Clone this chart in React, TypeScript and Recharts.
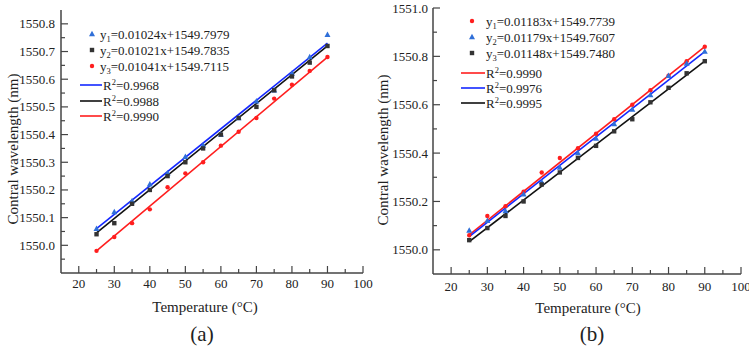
import React from 'react';
import { ComposedChart, Scatter, Line, XAxis, YAxis, Legend } from 'recharts';

// measured temperatures
const temps = [25, 30, 35, 40, 45, 50, 55, 60, 65, 70, 75, 80, 85, 90];
const fitX = [25, 90];

// (a)
const aY1 = [1550.06, 1550.12, 1550.16, 1550.22, 1550.26, 1550.32, 1550.36, 1550.4, 1550.46, 1550.52, 1550.56, 1550.62, 1550.68, 1550.76];
const aY2 = [1550.04, 1550.08, 1550.15, 1550.2, 1550.25, 1550.3, 1550.35, 1550.4, 1550.46, 1550.5, 1550.56, 1550.61, 1550.66, 1550.72];
const aY3 = [1549.98, 1550.03, 1550.08, 1550.13, 1550.21, 1550.26, 1550.3, 1550.36, 1550.41, 1550.46, 1550.53, 1550.58, 1550.63, 1550.68];
const aFit1 = [1550.06, 1550.73];
const aFit2 = [1550.045, 1550.72];
const aFit3 = [1549.98, 1550.68];

// (b)
const bY1 = [1550.06, 1550.14, 1550.18, 1550.24, 1550.32, 1550.38, 1550.42, 1550.48, 1550.54, 1550.6, 1550.66, 1550.72, 1550.78, 1550.84];
const bY2 = [1550.08, 1550.12, 1550.16, 1550.23, 1550.28, 1550.34, 1550.4, 1550.46, 1550.52, 1550.58, 1550.64, 1550.72, 1550.77, 1550.82];
const bY3 = [1550.04, 1550.09, 1550.14, 1550.2, 1550.27, 1550.32, 1550.38, 1550.43, 1550.49, 1550.54, 1550.61, 1550.67, 1550.73, 1550.78];
const bFit1 = [1550.062, 1550.84];
const bFit2 = [1550.055, 1550.82];
const bFit3 = [1550.034, 1550.78];

const xTicks = [20, 25, 30, 35, 40, 45, 50, 55, 60, 65, 70, 75, 80, 85, 90, 95, 100];
const xMajor = [20, 30, 40, 50, 60, 70, 80, 90, 100];
const aYTicks = [1549.95, 1550.0, 1550.05, 1550.1, 1550.15, 1550.2, 1550.25, 1550.3, 1550.35, 1550.4, 1550.45, 1550.5, 1550.55, 1550.6, 1550.65, 1550.7, 1550.75, 1550.8];
const aYMajor = [1549.9, 1550.0, 1550.1, 1550.2, 1550.3, 1550.4, 1550.5, 1550.6, 1550.7, 1550.8];
const bYTicks = [1550.0, 1550.1, 1550.2, 1550.3, 1550.4, 1550.5, 1550.6, 1550.7, 1550.8, 1550.9, 1551.0];
const bYMajor = [1550.0, 1550.2, 1550.4, 1550.6, 1550.8, 1551.0];

const aLegend = ['0.01024x+1549.7979', '0.01021x+1549.7835', '0.01041x+1549.7115'];
const aR2 = ['0.9968', '0.9988', '0.9990'];
const bLegend = ['0.01183x+1549.7739', '0.01179x+1549.7607', '0.01148x+1549.7480'];
const bR2 = ['0.9990', '0.9976', '0.9995'];

const FONT = '"Liberation Serif", "Times New Roman", serif';
const AXIS = '#444';
const BLUE = '#1428ff';
const TRI = '#2f6fd8';
const RED = '#ff1e1e';
const BLACK = '#111';

const pts = (ys: number[]) => temps.map((x, i) => ({ x, y: ys[i] }));
const seg = (ys: number[]) => fitX.map((x, i) => ({ x, y: ys[i] }));
const near = (list: number[], v: number) => list.some((m) => Math.abs(m - v) < 1e-6);

function Marker({ kind, cx, cy, color }: any) {
  if (kind === 'tri')
    return <polygon points={`${cx},${cy - 3.3} ${cx - 3},${cy + 2.2} ${cx + 3},${cy + 2.2}`} fill={color} />;
  if (kind === 'sq') return <rect x={cx - 2.2} y={cy - 2.2} width={4.4} height={4.4} fill={color} />;
  return <circle cx={cx} cy={cy} r={2.2} fill={color} />;
}

const shape = (kind: string, color: string) => (p: any) => <Marker kind={kind} cx={p.cx} cy={p.cy} color={color} />;

function XTick({ x, y, payload, dy }: any) {
  const major = near(xMajor, payload.value);
  return (
    <g>
      <line x1={x} x2={x} y1={y} y2={y - (major ? 7 : 4)} stroke={AXIS} strokeWidth={1.2} />
      {major && (
        <text x={x} y={y + dy} textAnchor="middle" fontSize={13} fontFamily={FONT} fill="#222">
          {payload.value}
        </text>
      )}
    </g>
  );
}

function YTick({ x, y, payload, majors, gap }: any) {
  const major = near(majors, payload.value);
  return (
    <g>
      <line x1={x} x2={x + (major ? 7 : 4)} y1={y} y2={y} stroke={AXIS} strokeWidth={1.2} />
      {major && (
        <text x={x - gap} y={y + 4.5} textAnchor="end" fontSize={13} fontFamily={FONT} fill="#222">
          {payload.value.toFixed(1)}
        </text>
      )}
    </g>
  );
}

type Entry = { kind: string; color: string };

function LegendBox({ left, top, markers, lines, eqs, r2s, mk, tx, lx, ltx, rows, lrows }: any) {
  return (
    <div style={{ position: 'absolute', left, top }}>
      <svg width={260} height={110} style={{ overflow: 'visible' }}>
        {markers.map((m: Entry, i: number) => (
          <g key={'m' + i}>
            <Marker kind={m.kind} cx={mk} cy={rows[i]} color={m.color} />
            <text x={tx} y={rows[i] + 4.5} fontSize={13} fontFamily={FONT} fill="#222">
              y<tspan fontSize={8.5} dy={3}>{i + 1}</tspan>
              <tspan dy={-3}>={eqs[i]}</tspan>
            </text>
          </g>
        ))}
        {lines.map((c: string, i: number) => (
          <g key={'l' + i}>
            <line x1={lx[0]} x2={lx[1]} y1={lrows[i]} y2={lrows[i]} stroke={c} strokeWidth={1.6} />
            <text x={ltx} y={lrows[i] + 4.5} fontSize={13} fontFamily={FONT} fill="#222">
              R<tspan fontSize={8.5} dy={-5}>2</tspan>
              <tspan dy={5}>={r2s[i]}</tspan>
            </text>
          </g>
        ))}
      </svg>
    </div>
  );
}

function Panel(props: any) {
  const { width, margin, yWidth, yDomain, yTicks, yMajor, series, fits, legend, xdy, ygap } = props;
  return (
    <ComposedChart width={width} height={351} margin={margin}>
      <XAxis
        dataKey="x"
        type="number"
        domain={[15, 100]}
        ticks={xTicks}
        interval={0}
        tickSize={0}
        tickMargin={0}
        tickLine={false}
        axisLine={{ stroke: AXIS, strokeWidth: 1.5 }}
        tick={<XTick dy={xdy} />}
        height={30}
        allowDataOverflow
      />
      <XAxis xAxisId="t" orientation="top" type="number" domain={[15, 100]} tick={false} tickLine={false} height={0} axisLine={{ stroke: AXIS, strokeWidth: 1.5 }} />
      <YAxis
        type="number"
        domain={yDomain}
        ticks={yTicks}
        interval={0}
        tickSize={0}
        tickMargin={0}
        tickLine={false}
        width={yWidth}
        axisLine={{ stroke: AXIS, strokeWidth: 1.5 }}
        tick={<YTick majors={yMajor} gap={ygap} />}
        allowDataOverflow
      />
      <YAxis yAxisId="r" orientation="right" type="number" domain={yDomain} tick={false} tickLine={false} width={0} axisLine={{ stroke: '#666', strokeWidth: 1.8 }} />
      {fits.map((f: any, i: number) => (
        <Line key={'f' + i} data={seg(f.ys)} dataKey="y" stroke={f.color} strokeWidth={1.6} dot={false} isAnimationActive={false} />
      ))}
      {series.map((s: any, i: number) => (
        <Scatter key={'s' + i} data={pts(s.ys)} dataKey="y" shape={shape(s.kind, s.color)} isAnimationActive={false} />
      ))}
      <Legend
        layout="vertical"
        align="center"
        verticalAlign="middle"
        wrapperStyle={{ left: 0, top: 0, width: 0, height: 0 }}
        content={() => legend}
      />
    </ComposedChart>
  );
}

const label = (text: string, cx: number, cy: number, size: number, rotate = false) => (
  <div
    style={{
      position: 'absolute',
      left: cx,
      top: cy,
      transform: `translate(-50%, -50%)${rotate ? ' rotate(-90deg)' : ''}`,
      whiteSpace: 'nowrap',
      fontSize: size,
      fontFamily: FONT,
      color: '#222',
      lineHeight: 1,
    }}
  >
    {text}
  </div>
);

export default function App() {
  const aMarkers = [
    { kind: 'tri', color: TRI },
    { kind: 'sq', color: '#333' },
    { kind: 'circ', color: RED },
  ];
  const bMarkers = [
    { kind: 'circ', color: RED },
    { kind: 'tri', color: TRI },
    { kind: 'sq', color: '#333' },
  ];
  return (
    <div style={{ position: 'absolute', left: 0, top: 0, width: 749, height: 351, background: '#fff', fontFamily: FONT }}>
      <div style={{ position: 'absolute', left: 0, top: 0 }}>
        <Panel
          width={375}
          margin={{ top: 10, right: 12, bottom: 48, left: 0 }}
          yWidth={61}
          yDomain={[1549.9, 1550.85]}
          yTicks={aYTicks}
          yMajor={aYMajor}
          xdy={15}
          ygap={6}
          series={[
            { ys: aY1, kind: 'tri', color: TRI },
            { ys: aY2, kind: 'sq', color: '#333' },
            { ys: aY3, kind: 'circ', color: RED },
          ]}
          fits={[
            { ys: aFit1, color: BLUE },
            { ys: aFit2, color: BLACK },
            { ys: aFit3, color: RED },
          ]}
          legend={
            <LegendBox
              left={0}
              top={0}
              markers={aMarkers}
              lines={[BLUE, BLACK, RED]}
              eqs={aLegend}
              r2s={aR2}
              mk={92}
              tx={100}
              lx={[80, 102]}
              ltx={103}
              rows={[34, 50, 66]}
              lrows={[85, 101, 116]}
            />
          }
        />
      </div>
      <div style={{ position: 'absolute', left: 375, top: 0 }}>
        <Panel
          width={374}
          margin={{ top: 8, right: 8, bottom: 47, left: 0 }}
          yWidth={58}
          yDomain={[1549.9, 1551.0]}
          yTicks={bYTicks}
          yMajor={bYMajor}
          xdy={17}
          ygap={5}
          series={[
            { ys: bY1, kind: 'circ', color: RED },
            { ys: bY2, kind: 'tri', color: TRI },
            { ys: bY3, kind: 'sq', color: '#333' },
          ]}
          fits={[
            { ys: bFit1, color: RED },
            { ys: bFit2, color: BLUE },
            { ys: bFit3, color: BLACK },
          ]}
          legend={
            <LegendBox
              left={0}
              top={0}
              markers={bMarkers}
              lines={[RED, BLUE, BLACK]}
              eqs={bLegend}
              r2s={bR2}
              mk={97}
              tx={111}
              lx={[86, 110]}
              ltx={111}
              rows={[21, 37, 53]}
              lrows={[73, 88, 103]}
            />
          }
        />
      </div>
      {label('Contral wavelength (nm)', 13, 149, 15, true)}
      {label('Temperature (°C)', 205, 307, 15)}
      {label('(a)', 202, 334, 21)}
      {label('Contral wavelength (nm)', 383, 150, 15, true)}
      {label('Temperature (°C)', 588, 308, 15)}
      {label('(b)', 592, 334, 21)}
    </div>
  );
}
